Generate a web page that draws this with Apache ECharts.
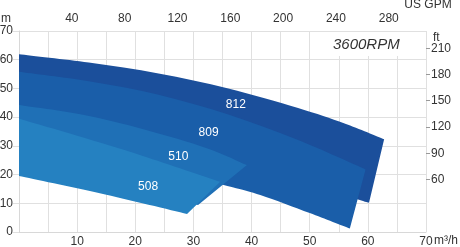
<!DOCTYPE html>
<html><head><meta charset="utf-8">
<script src="https://cdn.jsdelivr.net/npm/echarts@6/dist/echarts.min.js"></script>
<style>html,body{margin:0;padding:0;background:#fff}#c{width:460px;height:247px}</style>
</head><body><div id="c"></div>
<script>
// ---- data (flow in m3/h, head in m) ----
const modelNames = ['812', '809', '510', '508'];
const top812 = [[0,61.9],[12,59.0],[24,55.2],[36,50.0],[48,43.2],[56,37.8],[62.8,32.3]];
const bottom812 = [[60.2,10.2],[58.2,11.4],[45,20],[30,27],[0,38]];
const top809 = [[0,55.8],[12,52.5],[24,47.8],[36,40.9],[48,32.0],[59.6,21.8]];
const bottom809 = [[56.9,1.2],[50,6.6],[41.5,12.9],[35.2,16.4],[20,24],[0,32]];
const top510 = [[0,44.2],[11,40.8],[21.7,35.6],[32.3,29.2],[39.2,23.3]];
const bottom510 = [[30.8,9.4],[15,17],[0,24]];
const top508 = [[0,39.4],[10,33.5],[21.3,26.5],[34.6,17.5]];
const bottom508 = [[28.9,6.3],[13.9,13.5],[0,19.5]];
const labelPoints = [[37.3,44.5],[32.6,34.6],[27.4,26.2],[22.2,15.8]];
const flowLabels = [10,20,30,40,50,60,70];
const gpmLabels = [40,80,120,160,200,240,280];
const headLabels = [0,10,20,30,40,50,60,70];
const ftLabels = [60,90,120,150,180,210];
const speedText = '3600RPM';

// ---- styles ----
const tops = [top812, top809, top510, top508];
const bottoms = [bottom812, bottom809, bottom510, bottom508];
const colors = ['#1b4f9b', '#1a5ea9', '#1f70b6', '#2581c1'];
const FONT = "'Liberation Sans', Arial, Helvetica, sans-serif";
const M3H_TO_GPM = 4.40287, M_TO_FT = 3.28084;

function splinePath(pts, start) {
  let d = (start ? 'M' : 'L') + pts[0][0] + ',' + pts[0][1];
  const n = pts.length;
  for (let i = 0; i < n - 1; i++) {
    const p0 = pts[Math.max(i - 1, 0)], p1 = pts[i], p2 = pts[i + 1], p3 = pts[Math.min(i + 2, n - 1)];
    const c1 = [p1[0] + (p2[0] - p0[0]) / 6, p1[1] + (p2[1] - p0[1]) / 6];
    const c2 = [p2[0] - (p3[0] - p1[0]) / 6, p2[1] - (p3[1] - p1[1]) / 6];
    d += 'C' + c1[0] + ',' + c1[1] + ' ' + c2[0] + ',' + c2[1] + ' ' + p2[0] + ',' + p2[1];
  }
  return d;
}

const series = modelNames.map((name, i) => ({
  type: 'custom',
  name: name,
  coordinateSystem: 'cartesian2d',
  xAxisIndex: 0, yAxisIndex: 0,
  silent: true,
  clip: false,
  data: [[0, 0]],
  renderItem: function (params, api) {
    const tp = tops[i].map(p => api.coord(p));
    const bp = bottoms[i].map(p => api.coord(p));
    const d = splinePath(tp, true) + splinePath(bp, false) + 'Z';
    const lp = api.coord(labelPoints[i]);
    return {
      type: 'group',
      children: [
        { type: 'path', shape: { pathData: d }, style: { fill: colors[i] } },
        { type: 'text', x: lp[0], y: lp[1], z2: 10,
          style: { text: name, fill: '#ffffff', fontSize: 12, fontFamily: FONT, align: 'center', verticalAlign: 'middle' } }
      ]
    };
  }
}));

const chart = echarts.init(document.getElementById('c'), null, { renderer: 'canvas' });
chart.setOption({
  animation: false,
  backgroundColor: '#ffffff',
  textStyle: { fontFamily: FONT },
  title: {
    text: speedText, left: 312, top: 32,
    padding: [5, 19, 4, 21],
    backgroundColor: '#ffffff',
    textStyle: { fontStyle: 'italic', fontWeight: 'normal', fontSize: 15, color: '#333', fontFamily: FONT }
  },
  grid: { left: 19, right: 34, top: 31, bottom: 15, containLabel: false, outerBoundsMode: 'none' },
  xAxis: [
    {
      type: 'value', position: 'bottom', min: 0, max: 70, interval: 5,
      name: 'm³/h', nameLocation: 'end', nameGap: 8, nameMoveOverlap: false,
      nameTextStyle: { color: '#333', fontSize: 12, fontFamily: FONT, align: 'left', verticalAlign: 'top', lineHeight: 18 },
      axisLine: { show: true, onZero: false, lineStyle: { color: '#d8d8d8', width: 1 } },
      axisTick: { show: false },
      axisLabel: { color: '#333', fontSize: 12, fontFamily: FONT, margin: 4, customValues: flowLabels },
      splitLine: { show: true, lineStyle: { color: '#e0e0e0', width: 1 } }
    },
    {
      type: 'value', position: 'top', min: 0, max: 70 * M3H_TO_GPM, interval: 40,
      name: 'US GPM', nameLocation: 'end', nameGap: 2, nameMoveOverlap: false,
      nameTextStyle: { color: '#333', fontSize: 12, fontFamily: FONT, align: 'center', verticalAlign: 'bottom', lineHeight: 52 },
      axisLine: { show: false, onZero: false }, axisTick: { show: false }, splitLine: { show: false },
      axisLabel: { color: '#333', fontSize: 12, fontFamily: FONT, margin: 6, customValues: gpmLabels }
    }
  ],
  yAxis: [
    {
      type: 'value', position: 'left', min: 0, max: 70, interval: 10,
      name: 'm', nameLocation: 'end', nameGap: 12, nameMoveOverlap: false,
      nameTextStyle: { color: '#333', fontSize: 12, fontFamily: FONT, align: 'center', verticalAlign: 'middle', padding: [0, 26, 0, 0] },
      axisLine: { show: true, onZero: false, lineStyle: { color: '#d8d8d8', width: 1 } },
      axisTick: { show: true, length: 6, lineStyle: { color: '#e0e0e0' } },
      axisLabel: { color: '#333', fontSize: 12, fontFamily: FONT, margin: 6, customValues: headLabels },
      splitLine: { show: true, lineStyle: { color: '#e0e0e0', width: 1 } }
    },
    {
      type: 'value', position: 'right', min: 0, max: 70 * M_TO_FT, interval: 30,
      name: 'ft', nameLocation: 'end', nameGap: -7, nameMoveOverlap: false,
      nameTextStyle: { color: '#333', fontSize: 12, fontFamily: FONT, align: 'left', verticalAlign: 'middle', padding: [0, 0, 0, 7] },
      axisLine: { show: false, onZero: false }, splitLine: { show: false },
      axisTick: { show: true, length: 4, lineStyle: { color: '#999' }, customValues: ftLabels },
      axisLabel: { color: '#333', fontSize: 12, fontFamily: FONT, margin: 5, customValues: ftLabels }
    }
  ],
  series: series
});
</script>
</body></html>
